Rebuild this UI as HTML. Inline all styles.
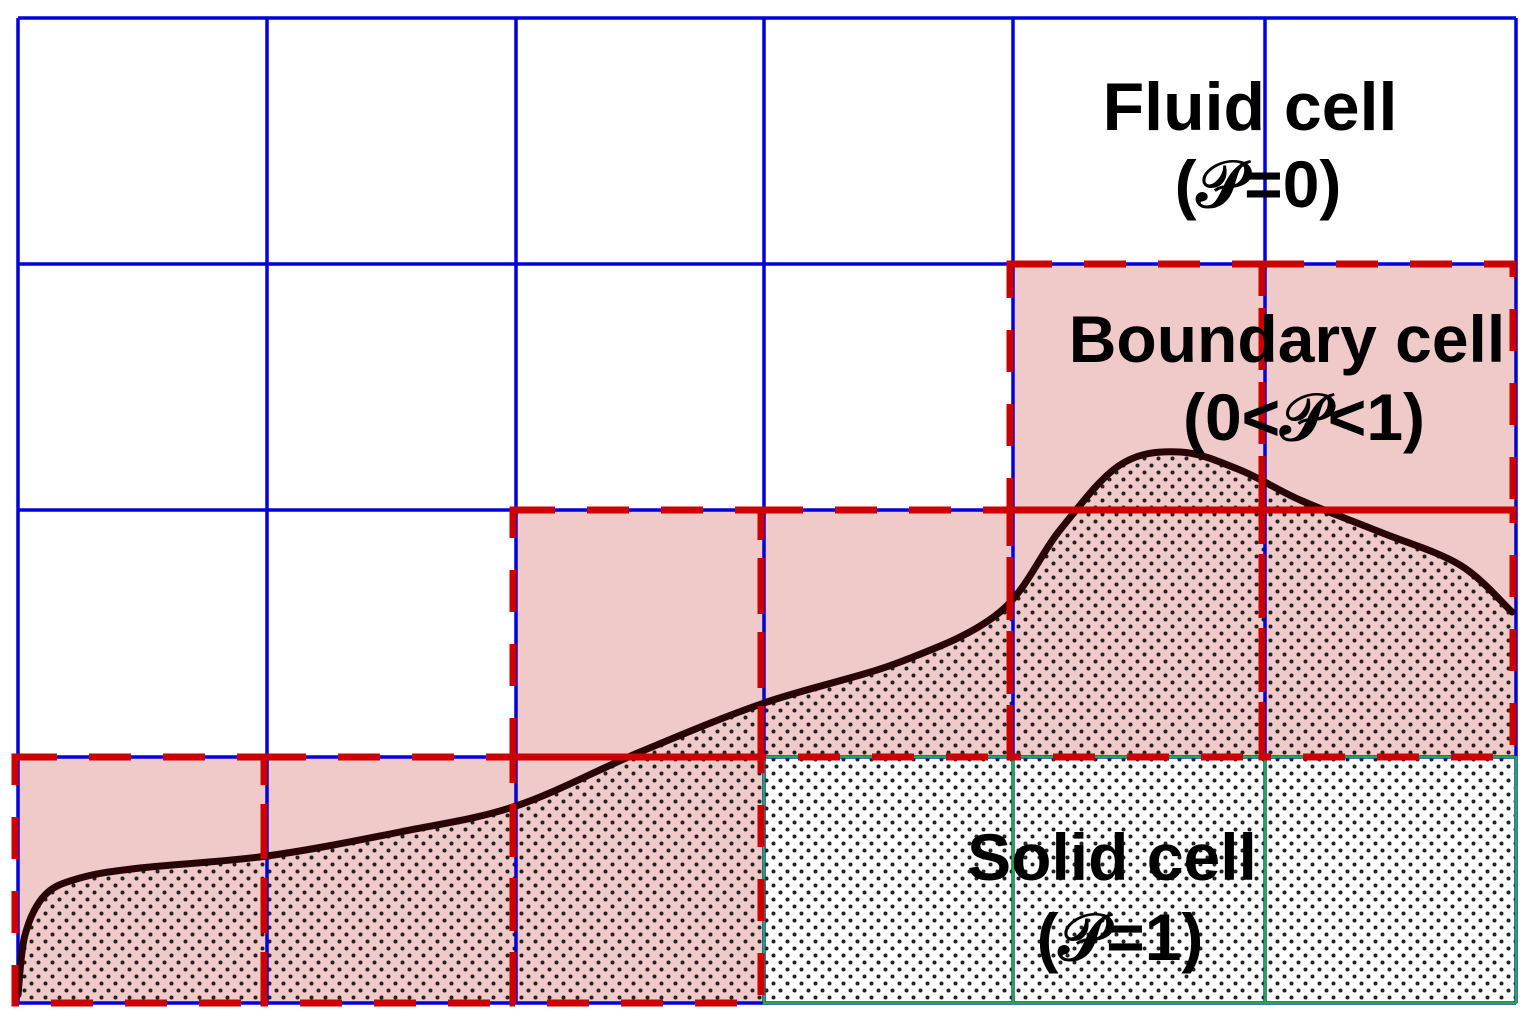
<!DOCTYPE html>
<html><head><meta charset="utf-8"><style>
html,body{margin:0;padding:0;background:#fff;}
svg{display:block;}
text{font-family:"Liberation Sans",sans-serif;font-weight:bold;fill:#000;}
</style></head><body>
<svg id="fig" width="1533" height="1023" viewBox="0 0 1533 1023" xmlns="http://www.w3.org/2000/svg">
<defs>
<pattern id="dots" width="14" height="14" patternUnits="userSpaceOnUse">
<circle cx="3.5" cy="3.5" r="2" fill="#222"/>
<circle cx="10.5" cy="10.5" r="2" fill="#222"/>
</pattern>
<clipPath id="underCurve"><path id="clipPath"/></clipPath>
</defs>
<g id="layers"></g>
<text x="1250" y="130" font-size="68" text-anchor="middle">Fluid cell</text>
<text x="1258" y="207" font-size="66" text-anchor="middle">(𝒫=0)</text>
<text x="1287" y="362" font-size="66" text-anchor="middle">Boundary cell</text>
<text x="1304" y="440" font-size="66" text-anchor="middle">(0&lt;𝒫&lt;1)</text>
<text x="1112" y="880" font-size="66" text-anchor="middle">Solid cell</text>
<text x="1120" y="960" font-size="66" text-anchor="middle">(𝒫=1)</text>
</svg>
<script>
const colEdges = [18, 267, 516, 764, 1013, 1265, 1516];
const rowEdges = [18, 264, 510, 757, 1003];
// cell types per row: F=fluid, B=boundary, S=solid
const row0 = ['F','F','F','F','F','F'];
const row1 = ['F','F','F','F','B','B'];
const row2 = ['F','F','B','B','B','B'];
const row3 = ['B','B','B','S','S','S'];
const curveX = [18, 25, 45, 80, 140, 267, 400, 516, 640, 764, 900, 1000, 1060, 1120, 1180, 1240, 1300, 1380, 1460, 1512];
const curveY = [995, 935, 895, 878, 868, 856, 832, 806, 752, 703, 662, 612, 530, 465, 452, 470, 500, 532, 565, 612];

const NS = 'http://www.w3.org/2000/svg';
const g = document.getElementById('layers');
const rows = [row0, row1, row2, row3];
function mk(tag, attrs){ const e=document.createElementNS(NS,tag); for(const k in attrs) e.setAttribute(k, attrs[k]); return e; }

function curveD(){
  let d = 'M' + curveX[0] + ',' + curveY[0];
  for(let i=0;i<curveX.length-1;i++){
    const x0=curveX[Math.max(i-1,0)], y0=curveY[Math.max(i-1,0)];
    const x1=curveX[i], y1=curveY[i], x2=curveX[i+1], y2=curveY[i+1];
    const x3=curveX[Math.min(i+2,curveX.length-1)], y3=curveY[Math.min(i+2,curveX.length-1)];
    d += ' C' + (x1+(x2-x0)/6) + ',' + (y1+(y2-y0)/6) + ' ' + (x2-(x3-x1)/6) + ',' + (y2-(y3-y1)/6) + ' ' + x2 + ',' + y2;
  }
  return d;
}
const cd = curveD();
document.getElementById('clipPath').setAttribute('d', cd + ' L1516,1003 L18,1003 Z');

rows.forEach((r, ri) => r.forEach((t, ci) => {
  if(t==='B'){
    const rc = mk('rect',{x:colEdges[ci],y:rowEdges[ri],width:colEdges[ci+1]-colEdges[ci],height:rowEdges[ri+1]-rowEdges[ri],fill:'#f0c9c9'});
    
    
    g.appendChild(rc);
  }
}));
const dotted = mk('rect',{x:18,y:18,width:1498,height:985,fill:'url(#dots)','clip-path':'url(#underCurve)'});


g.appendChild(dotted);

colEdges.forEach(x => {
  const l = mk('line',{x1:x,y1:rowEdges[0],x2:x,y2:rowEdges[rowEdges.length-1],stroke:'#0000dd','stroke-width':3.5});
  
  
  g.appendChild(l);
});
rowEdges.forEach(y => {
  const l = mk('line',{x1:colEdges[0],y1:y,x2:colEdges[colEdges.length-1],y2:y,stroke:'#0000dd','stroke-width':3.5});
  
  
  g.appendChild(l);
});
rows.forEach((r, ri) => r.forEach((t, ci) => {
  if(t==='S'){
    const rc = mk('rect',{x:colEdges[ci],y:rowEdges[ri],width:colEdges[ci+1]-colEdges[ci],height:rowEdges[ri+1]-rowEdges[ri],fill:'none',stroke:'#22aa44','stroke-width':2.5});
    
    
    g.appendChild(rc);
  }
}));
const cp = mk('path',{d:cd,fill:'none',stroke:'#2a0505','stroke-width':7,'stroke-linecap':'round'});


g.appendChild(cp);
rows.forEach((r, ri) => r.forEach((t, ci) => {
  if(t==='B'){
    const rc = mk('rect',{x:colEdges[ci]-3,y:rowEdges[ri],width:colEdges[ci+1]-colEdges[ci],height:rowEdges[ri+1]-rowEdges[ri],fill:'none',stroke:'#cc0000','stroke-width':7,'stroke-dasharray':'42 32'});
    
    
    g.appendChild(rc);
  }
}));
</script>
</body></html>
